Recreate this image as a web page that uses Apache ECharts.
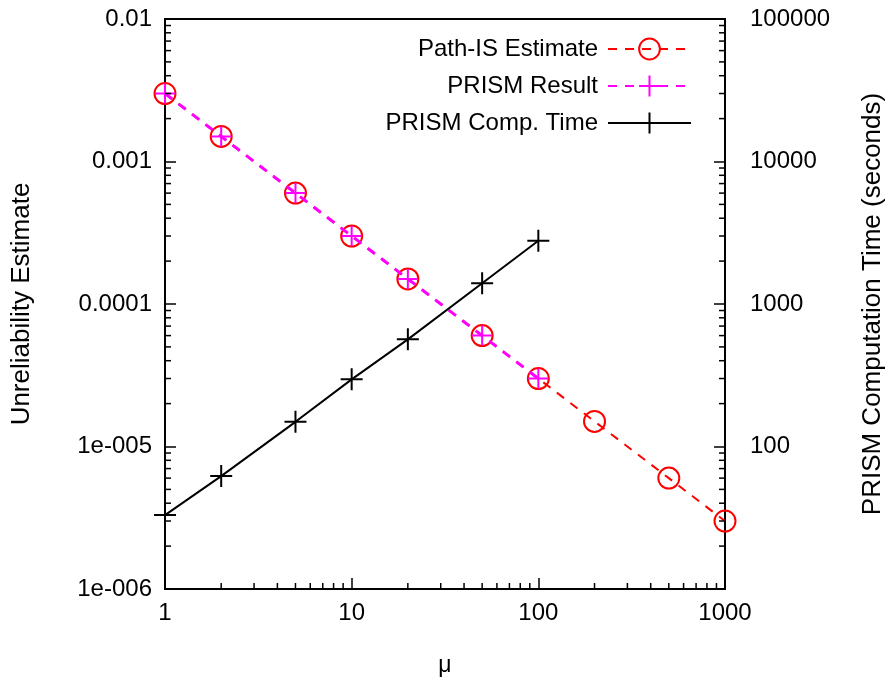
<!DOCTYPE html>
<html>
<head>
<meta charset="utf-8">
<script src="https://cdn.jsdelivr.net/npm/echarts@6/dist/echarts.min.js"></script>
<style>
  html, body { margin: 0; padding: 0; background: #fff; }
  #main { width: 885px; height: 682px; }
</style>
</head>
<body>
<div id="main"></div>
<script>
// data
const muAll = [1, 2, 5, 10, 20, 50, 100, 200, 500, 1000];
const pathIS = [3e-3, 1.5e-3, 6e-4, 3e-4, 1.5e-4, 6e-5, 3e-5, 1.5e-5, 6e-6, 3e-6];
const muPrism = [1, 2, 5, 10, 20, 50, 100];
const prismResult = [3e-3, 1.5e-3, 6e-4, 3e-4, 1.5e-4, 6e-5, 3e-5];
const prismTime = [33, 62, 149, 296, 565, 1400, 2780];

// tick labels
const xTickLabels = ['1', '10', '100', '1000'];                        // 1 .. 1000
const leftTickLabels = ['1e-006', '1e-005', '0.0001', '0.001', '0.01']; // 1e-6 .. 1e-2
const rightTickLabels = ['', '100', '1000', '10000', '100000'];       // 10 .. 1e5

// minor tick positions (2..9 per decade)
function minorTicks(from, decades) {
  const out = [];
  for (let d = 0; d < decades; d++) {
    const base = from * Math.pow(10, d);
    for (let k = 2; k <= 9; k++) out.push(base * k);
  }
  return out;
}
const xMinor = minorTicks(1, 3);
const yLeftMinor = minorTicks(1e-6, 4);
const yRightMinor = minorTicks(10, 4);

const FONT = 'Liberation Sans';
const chart = echarts.init(document.getElementById('main'));

function tickSeries(values, dir, yIdx) {
  return {
    type: 'custom',
    silent: true,
    yAxisIndex: yIdx,
    clip: false,
    z: 5,
    data: values.map(function (v) { return [v]; }),
    renderItem: function (params, api) {
      const cs = params.coordSys;
      const v = api.value(0);
      let x1, y1, x2, y2;
      if (dir === 'x') {
        const p = api.coord([v, yIdx === 0 ? 1e-4 : 100]);
        x1 = x2 = p[0]; y1 = cs.y + cs.height; y2 = y1 - 6;
      } else if (dir === 'left') {
        const p = api.coord([10, v]);
        y1 = y2 = p[1]; x1 = cs.x; x2 = x1 + 6;
      } else {
        const p = api.coord([10, v]);
        y1 = y2 = p[1]; x1 = cs.x + cs.width; x2 = x1 - 6;
      }
      return {
        type: 'line',
        shape: { x1: x1, y1: y1, x2: x2, y2: y2 },
        style: { stroke: '#000', lineWidth: 1.5 }
      };
    }
  };
}

const plusPath = 'path://M0,5L10,5M5,0L5,10';

const option = {
  backgroundColor: '#ffffff',
  animation: false,
  textStyle: { fontFamily: FONT },
  grid: {
    left: 165, right: 160, top: 19, bottom: 93,
    outerBoundsMode: 'none',
    containLabel: false,
    show: true, borderColor: '#000', borderWidth: 2, backgroundColor: 'transparent'
  },
  legend: {
    data: ['Path-IS Estimate', 'PRISM Result', 'PRISM Comp. Time'],
    orient: 'vertical',
    align: 'right',
    right: 188,
    top: 32,
    itemWidth: 83,
    itemHeight: 26,
    itemGap: 13,
    textStyle: { fontFamily: FONT, fontSize: 24, color: '#000', padding: [0, 5, 0, 0] }
  },
  xAxis: {
    type: 'log',
    logBase: 10,
    min: 1,
    max: 1000,
    name: 'μ',
    nameLocation: 'middle',
    nameGap: 65,
    nameTextStyle: { fontFamily: FONT, fontSize: 23, color: '#000' },
    axisLine: { lineStyle: { color: '#000', width: 2 } },
    axisTick: { inside: true, length: 11, lineStyle: { color: '#000', width: 1.5 } },
    axisLabel: {
      fontFamily: FONT, fontSize: 24, color: '#000', margin: 12,
      formatter: function (v) { return xTickLabels[Math.round(Math.log10(v))] || ''; }
    },
    splitLine: { show: false }
  },
  yAxis: [{
    type: 'log',
    logBase: 10,
    min: 1e-6,
    max: 1e-2,
    position: 'left',
    name: 'Unreliability Estimate',
    nameLocation: 'middle',
    nameGap: 130,
    nameTextStyle: { fontFamily: FONT, fontSize: 26, color: '#000' },
    axisLine: { show: true, lineStyle: { color: '#000', width: 2 } },
    axisTick: { inside: true, length: 11, lineStyle: { color: '#000', width: 1.5 } },
    axisLabel: {
      fontFamily: FONT, fontSize: 24, color: '#000', margin: 13,
      formatter: function (v) { return leftTickLabels[Math.round(Math.log10(v)) + 6] || ''; }
    },
    splitLine: { show: false }
  }, {
    type: 'log',
    logBase: 10,
    min: 10,
    max: 100000,
    position: 'right',
    name: 'PRISM Computation Time (seconds)',
    nameLocation: 'middle',
    nameGap: 135,
    nameTextStyle: { fontFamily: FONT, fontSize: 26, color: '#000' },
    axisLine: { show: true, lineStyle: { color: '#000', width: 2 } },
    axisTick: { inside: true, length: 11, lineStyle: { color: '#000', width: 1.5 } },
    axisLabel: {
      fontFamily: FONT, fontSize: 24, color: '#000', margin: 25,
      formatter: function (v) { return rightTickLabels[Math.round(Math.log10(v)) - 1] || ''; }
    },
    splitLine: { show: false }
  }],
  series: [
    {
      name: 'Path-IS Estimate',
      type: 'line',
      yAxisIndex: 0,
      data: muAll.map(function (m, i) { return [m, pathIS[i]]; }),
      symbol: 'circle',
      symbolSize: 21,
      showAllSymbol: true,
      lineStyle: { color: '#ff0000', width: 2, type: [9, 8] },
      itemStyle: { color: 'rgba(0,0,0,0)', borderColor: '#ff0000', borderWidth: 2 },
      z: 2
    },
    {
      name: 'PRISM Result',
      type: 'line',
      yAxisIndex: 0,
      data: muPrism.map(function (m, i) { return [m, prismResult[i]]; }),
      symbol: plusPath,
      symbolSize: 20,
      showAllSymbol: true,
      lineStyle: { color: '#ff00ff', width: 3, type: [9, 8] },
      itemStyle: { color: 'rgba(0,0,0,0)', borderColor: '#ff00ff', borderWidth: 2 },
      z: 3
    },
    {
      name: 'PRISM Comp. Time',
      type: 'line',
      yAxisIndex: 1,
      data: muPrism.map(function (m, i) { return [m, prismTime[i]]; }),
      symbol: plusPath,
      symbolSize: 22,
      showAllSymbol: true,
      lineStyle: { color: '#000', width: 2 },
      itemStyle: { color: 'rgba(0,0,0,0)', borderColor: '#000', borderWidth: 2 },
      z: 4
    },
    tickSeries(xMinor, 'x', 0),
    tickSeries(yLeftMinor, 'left', 0),
    tickSeries(yRightMinor, 'right', 1)
  ]
};

chart.setOption(option);
</script>
</body>
</html>
